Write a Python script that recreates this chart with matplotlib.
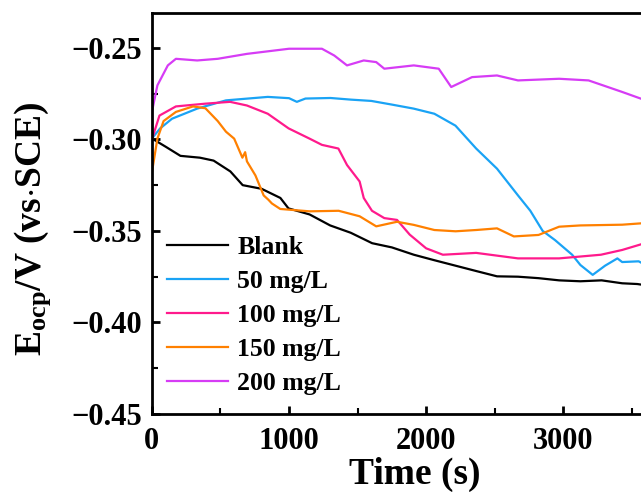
import matplotlib.pyplot as plt
from matplotlib.ticker import MultipleLocator

plt.rcParams['font.family'] = 'Liberation Serif'
plt.rcParams['font.weight'] = 'bold'
plt.rcParams['mathtext.fontset'] = 'custom'
plt.rcParams['mathtext.rm'] = 'Liberation Serif:bold'
plt.rcParams['mathtext.bf'] = 'Liberation Serif:bold'

### data ###
t_blank = [0, 100, 208, 350, 450, 572, 662, 800, 937, 996, 1150, 1300, 1450, 1606, 1750, 1910, 2060, 2215, 2370, 2517, 2670, 2820, 2970, 3125, 3280, 3430, 3540, 3630]
v_blank = [-0.2995, -0.304, -0.309, -0.310, -0.3116, -0.3175, -0.325, -0.327, -0.332, -0.3377, -0.341, -0.347, -0.351, -0.3567, -0.359, -0.363, -0.366, -0.369, -0.372, -0.3748, -0.375, -0.3758, -0.377, -0.3775, -0.377, -0.3786, -0.379, -0.380]

t_50 = [0, 60, 147, 330, 540, 845, 1000, 1057, 1120, 1303, 1453, 1600, 1750, 1909, 2060, 2214, 2365, 2517, 2670, 2760, 2850, 2940, 3065, 3125, 3215, 3305, 3395, 3430, 3550, 3635]
v_50 = [-0.2995, -0.294, -0.2887, -0.2832, -0.2787, -0.2768, -0.2775, -0.2795, -0.2777, -0.2774, -0.2783, -0.279, -0.281, -0.2832, -0.286, -0.2925, -0.305, -0.316, -0.3306, -0.339, -0.350, -0.355, -0.363, -0.3686, -0.374, -0.369, -0.365, -0.367, -0.3666, -0.370]

t_100 = [0, 55, 175, 390, 570, 693, 845, 997, 1150, 1240, 1360, 1423, 1515, 1545, 1605, 1695, 1788, 1880, 2000, 2122, 2365, 2670, 2970, 3275, 3430, 3635]
v_100 = [-0.300, -0.287, -0.282, -0.2805, -0.2795, -0.2815, -0.286, -0.294, -0.2996, -0.303, -0.305, -0.314, -0.323, -0.332, -0.339, -0.343, -0.344, -0.352, -0.3595, -0.363, -0.362, -0.365, -0.365, -0.363, -0.3604, -0.3558]

t_150 = [0, 40, 85, 175, 300, 390, 480, 540, 600, 660, 680, 693, 755, 815, 850, 875, 936, 1150, 1362, 1515, 1636, 1788, 1910, 2060, 2215, 2365, 2517, 2640, 2820, 2970, 3125, 3430, 3635]
v_150 = [-0.318, -0.2996, -0.290, -0.285, -0.282, -0.283, -0.290, -0.2958, -0.2996, -0.310, -0.307, -0.312, -0.3197, -0.3306, -0.333, -0.335, -0.338, -0.3393, -0.339, -0.342, -0.3475, -0.345, -0.3467, -0.3495, -0.3502, -0.3495, -0.3486, -0.353, -0.3522, -0.3477, -0.347, -0.3466, -0.3455]

t_200 = [0, 40, 116, 175, 330, 480, 693, 1000, 1240, 1330, 1423, 1545, 1636, 1695, 1910, 2092, 2183, 2335, 2517, 2670, 2970, 3185, 3430, 3635]
v_200 = [-0.285, -0.2705, -0.2596, -0.256, -0.2569, -0.256, -0.2533, -0.2505, -0.2505, -0.2542, -0.2596, -0.2569, -0.2578, -0.2614, -0.2596, -0.2614, -0.2714, -0.266, -0.2651, -0.2678, -0.2669, -0.2678, -0.2741, -0.2796]

labels = ['Blank', '50 mg/L', '100 mg/L', '150 mg/L', '200 mg/L']
colors = ['black', '#1aa3f5', '#ff1a8c', '#ff8000', '#d63cf5']

fig = plt.figure(figsize=(6.41, 4.92), dpi=100)
ax = fig.add_axes([0.237, 0.1585, 0.77, 0.815])

series = [(t_blank, v_blank), (t_50, v_50), (t_100, v_100), (t_150, v_150), (t_200, v_200)]
for (t, v), lab, c in zip(series, labels, colors):
    ax.plot(t, v, color=c, lw=1.6, label=lab)

ax.set_xlim(0, 3600)
ax.set_ylim(-0.45, -0.231)
ax.xaxis.set_major_locator(MultipleLocator(1000))
ax.xaxis.set_minor_locator(MultipleLocator(500))
ax.yaxis.set_major_locator(MultipleLocator(0.05))
ax.yaxis.set_minor_locator(MultipleLocator(0.025))
ax.yaxis.set_major_formatter(plt.FuncFormatter(lambda y, p: ('\u2212%.2f' % abs(y)) if y < 0 else '%.2f' % y))
ax.tick_params(which='major', direction='in', length=6, width=2, labelsize=22)
ax.tick_params(axis='x', which='major', pad=9)
ax.tick_params(axis='y', which='major', pad=7)
ax.tick_params(which='minor', direction='in', length=4, width=1.5)
for s in ax.spines.values():
    s.set_linewidth(2)

ax.set_xlabel('Time (s)', fontsize=27, fontweight='bold')
ax.xaxis.set_label_coords(0.533, -0.108)
ax.set_ylabel(r'$\mathrm{E_{ocp}}$/V (vs$\cdot$SCE)', fontsize=27, fontweight='bold')
ax.yaxis.set_label_coords(-0.20, 0.461)

ax.legend(loc='lower left', bbox_to_anchor=(0.03, 0.047), frameon=False, fontsize=18.5,
          handlelength=2.4, labelspacing=0.43, handletextpad=0.35, borderaxespad=0, borderpad=0)

fig.savefig('out.png', dpi=100)
